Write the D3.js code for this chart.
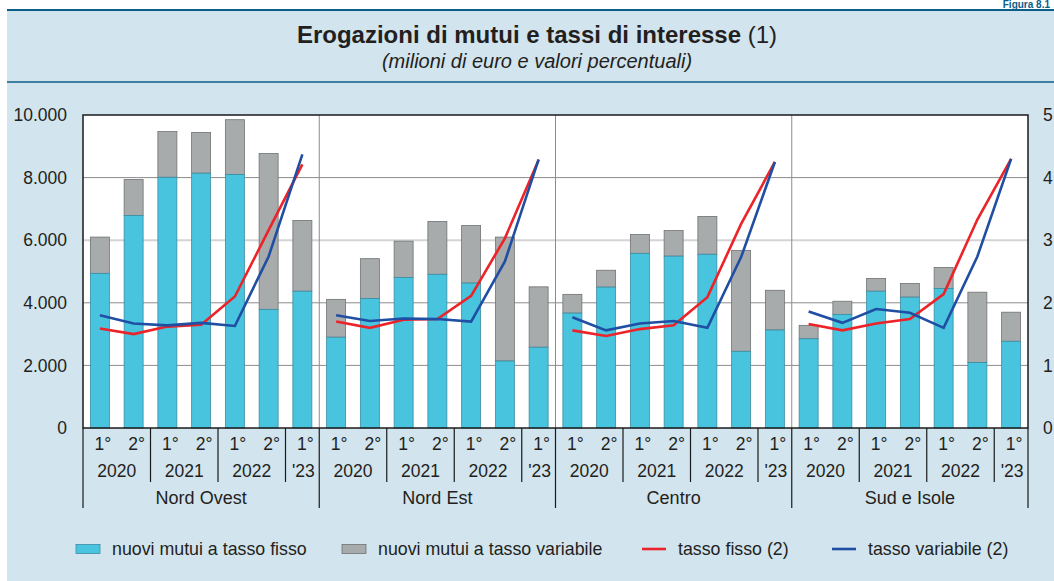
<!DOCTYPE html>
<html>
<head>
<meta charset="utf-8">
<script src="https://cdn.jsdelivr.net/npm/d3@7"></script>
<style>
  body { margin: 0; background: #fff; }
  svg { display: block; font-family: "Liberation Sans", Arial, sans-serif; }
</style>
</head>
<body>
<div class="layout"></div>
<script>
// data
var regions = ["Nord Ovest", "Nord Est", "Centro", "Sud e Isole"];
var halves = ["1°", "2°", "1°", "2°", "1°", "2°", "1°"];
var years = ["2020", "2021", "2022", "'23"];

// milioni di euro
var mutuiFisso = [
  4940, 6790, 8010, 8140, 8100, 3790, 4370,
  2900, 4140, 4810, 4910, 4630, 2140, 2580,
  3670, 4500, 5580, 5490, 5550, 2450, 3130,
  2850, 3630, 4370, 4180, 4460, 2090, 2770
];
var mutuiVariabile = [
  1160, 1150, 1460, 1300, 1750, 4980, 2260,
  1210, 1270, 1160, 1690, 1840, 3960, 1930,
   600,  540,  600,  820, 1210, 3220, 1270,
   430,  420,  410,  440,  670, 2250,  930
];
// valori percentuali
var tassoFisso = [
  1.59, 1.50, 1.62, 1.65, 2.10, 3.16, 4.21,
  1.70, 1.60, 1.73, 1.74, 2.11, 3.03, 4.28,
  1.56, 1.47, 1.58, 1.64, 2.09, 3.26, 4.25,
  1.66, 1.56, 1.67, 1.74, 2.14, 3.33, 4.30
];
var tassoVariabile = [
  1.80, 1.67, 1.64, 1.68, 1.63, 2.74, 4.37,
  1.80, 1.71, 1.75, 1.74, 1.70, 2.66, 4.29,
  1.77, 1.56, 1.67, 1.71, 1.60, 2.73, 4.25,
  1.86, 1.68, 1.90, 1.84, 1.60, 2.74, 4.30
];
var leftTicks = [0, 2000, 4000, 6000, 8000, 10000];
var rightTicks = [0, 1, 2, 3, 4, 5];

var W = 1054, H = 581;
var margin = {top: 115, right: 26, bottom: 153, left: 83},
    width = W - margin.left - margin.right,
    height = H - margin.top - margin.bottom;

var colFisso = "#48c4df", colVar = "#a8abac",
    colRed = "#ec2328", colBlue = "#1f4ea3",
    bg = "#d2e4ee", teal = "#0b5e87";

var data = mutuiFisso.map(function(d, i) {
  return {
    key: i,
    region: Math.floor(i / 7),
    slot: i % 7,
    fisso: d,
    variabile: mutuiVariabile[i],
    tf: tassoFisso[i],
    tv: tassoVariabile[i]
  };
});

var x = d3.scaleBand()
  .domain(data.map(function(d) { return d.key; }))
  .range([0, width])
  .paddingInner(0.437)
  .paddingOuter(0.2185);
var step = x.step();

var y = d3.scaleLinear().domain([0, 10000]).range([height, 0]);
var yRight = d3.scaleLinear().domain([0, 5]).range([height, 0]);

var itLocale = d3.formatLocale({decimal: ",", thousands: ".", grouping: [3], currency: ["€", ""]});
var fmt = itLocale.format(",d");

var svg = d3.select(".layout").append("svg")
  .attr("width", W)
  .attr("height", H);

// background panel and header
svg.append("rect").attr("x", 7).attr("y", 10).attr("width", W - 7).attr("height", H - 10).attr("fill", bg);
svg.append("line").attr("x1", 7).attr("x2", W).attr("y1", 10).attr("y2", 10).attr("stroke", teal).attr("stroke-width", 2.2);
svg.append("line").attr("x1", 7).attr("x2", W).attr("y1", 82).attr("y2", 82).attr("stroke", teal).attr("stroke-width", 1.5);
svg.append("text").attr("x", 1050).attr("y", 8).attr("text-anchor", "end").attr("fill", teal)
  .style("font-weight", "bold").style("font-size", "10px").text("Figura 8.1");

var title = svg.append("text").attr("x", 537).attr("y", 43).attr("text-anchor", "middle")
  .attr("fill", "#231f20").style("font-size", "24px");
title.append("tspan").style("font-weight", "bold").text("Erogazioni di mutui e tassi di interesse");
title.append("tspan").text(" (1)");
svg.append("text").attr("x", 537).attr("y", 68).attr("text-anchor", "middle")
  .attr("fill", "#231f20").style("font-size", "20px").style("font-style", "italic")
  .text("(milioni di euro e valori percentuali)");

var g = svg.append("g").attr("transform", "translate(" + margin.left + "," + margin.top + ")");

g.append("rect").attr("width", width).attr("height", height).attr("fill", "#fff");

// horizontal grid
g.selectAll(".hgrid").data(leftTicks.slice(1, -1)).enter().append("line")
  .attr("x1", 0).attr("x2", width)
  .attr("y1", function(d) { return y(d); }).attr("y2", function(d) { return y(d); })
  .attr("stroke", function(d) { return d === 6000 ? "#d4d4d4" : "#8c8c8c"; })
  .attr("stroke-width", function(d) { return d === 6000 ? 2 : 1; });

// region separators inside the plot
g.selectAll(".vgrid").data([1, 2, 3]).enter().append("line")
  .attr("x1", function(r) { return r * 7 * step; }).attr("x2", function(r) { return r * 7 * step; })
  .attr("y1", 0).attr("y2", height)
  .attr("stroke", "#8c8c8c").attr("stroke-width", 1);

// stacked bars
var bars = g.selectAll(".bar").data(data).enter().append("g");
bars.append("rect")
  .attr("x", function(d) { return x(d.key); })
  .attr("width", x.bandwidth())
  .attr("y", function(d) { return y(d.fisso + d.variabile); })
  .attr("height", function(d) { return y(d.fisso) - y(d.fisso + d.variabile); })
  .attr("fill", colVar).attr("stroke", "#6f7273").attr("stroke-width", 0.8);
bars.append("rect")
  .attr("x", function(d) { return x(d.key); })
  .attr("width", x.bandwidth())
  .attr("y", function(d) { return y(d.fisso); })
  .attr("height", function(d) { return height - y(d.fisso); })
  .attr("fill", colFisso).attr("stroke", "#3a8da3").attr("stroke-width", 0.8);

// rate lines, one segment per region
var line = function(acc) {
  return d3.line()
    .x(function(d) { return x(d.key) + x.bandwidth() / 2; })
    .y(function(d) { return yRight(acc(d)); });
};
regions.forEach(function(r, ri) {
  var sub = data.filter(function(d) { return d.region === ri; });
  g.append("path").datum(sub).attr("fill", "none").attr("stroke", colRed).attr("stroke-width", 2.6)
    .attr("d", line(function(d) { return d.tf; }));
  g.append("path").datum(sub).attr("fill", "none").attr("stroke", colBlue).attr("stroke-width", 2.6)
    .attr("d", line(function(d) { return d.tv; }));
});

// frame
g.append("rect").attr("width", width).attr("height", height)
  .attr("fill", "none").attr("stroke", "#1a1a1a").attr("stroke-width", 1.5);

// axes
var yAxis = d3.axisLeft(y).tickValues(leftTicks).tickFormat(fmt).tickSize(0).tickPadding(16);
var yRightAxis = d3.axisRight(yRight).tickValues(rightTicks).tickFormat(d3.format("d")).tickSize(0).tickPadding(15);

g.append("g").attr("class", "y axis").call(yAxis);
g.append("g").attr("class", "y axis").attr("transform", "translate(" + width + ",0)").call(yRightAxis);
g.selectAll(".axis path").remove();
g.selectAll(".axis text").style("font-size", "17.5px").attr("fill", "#231f20").style("font-family", "Liberation Sans, Arial, sans-serif");

// x labels: halves, years, regions
var lab = g.append("g").attr("transform", "translate(0," + height + ")");
lab.selectAll(".half").data(data).enter().append("text")
  .attr("x", function(d) { return x(d.key) + x.bandwidth() / 2 + 3; })
  .attr("y", 22).attr("text-anchor", "middle")
  .style("font-size", "17.5px").attr("fill", "#231f20")
  .text(function(d) { return halves[d.slot]; });

var yearSpans = [[0, 2], [2, 4], [4, 6], [6, 7]];
regions.forEach(function(r, ri) {
  yearSpans.forEach(function(s, yi) {
    var x0 = (ri * 7 + s[0]) * step, x1 = (ri * 7 + s[1]) * step;
    lab.append("text").attr("x", (x0 + x1) / 2 + (yi === 3 ? 1 : 0)).attr("y", 49)
      .attr("text-anchor", "middle").style("font-size", "17.5px").attr("fill", "#231f20")
      .text(years[yi]);
    if (yi > 0) {
      lab.append("line").attr("x1", x0).attr("x2", x0).attr("y1", 0).attr("y2", 54)
        .attr("stroke", "#1a1a1a").attr("stroke-width", 1.2);
    }
  });
  var rx0 = ri * 7 * step, rx1 = (ri + 1) * 7 * step;
  lab.append("text").attr("x", (rx0 + rx1) / 2).attr("y", 76)
    .attr("text-anchor", "middle").style("font-size", "18px").attr("fill", "#231f20")
    .text(r);
});
lab.selectAll(".rsep").data([0, 1, 2, 3, 4]).enter().append("line")
  .attr("x1", function(r) { return r * 7 * step; }).attr("x2", function(r) { return r * 7 * step; })
  .attr("y1", 0).attr("y2", 80)
  .attr("stroke", "#1a1a1a").attr("stroke-width", 1.2);

// legend
var legend = svg.append("g").attr("transform", "translate(0,549)");
var items = [
  {label: "nuovi mutui a tasso fisso", type: "rect", fill: colFisso, stroke: "#3a8da3", x: 76},
  {label: "nuovi mutui a tasso variabile", type: "rect", fill: colVar, stroke: "#6f7273", x: 342},
  {label: "tasso fisso (2)", type: "line", stroke: colRed, x: 642},
  {label: "tasso variabile (2)", type: "line", stroke: colBlue, x: 832}
];
items.forEach(function(it) {
  if (it.type === "rect") {
    legend.append("rect").attr("x", it.x).attr("y", -4.5).attr("width", 24).attr("height", 9)
      .attr("fill", it.fill).attr("stroke", it.stroke).attr("stroke-width", 0.8);
  } else {
    legend.append("line").attr("x1", it.x).attr("x2", it.x + 24).attr("y1", 0).attr("y2", 0)
      .attr("stroke", it.stroke).attr("stroke-width", 2.6);
  }
  legend.append("text").attr("x", it.x + 36).attr("y", 6)
    .style("font-size", "17.8px").attr("fill", "#231f20").text(it.label);
});
</script>
</body>
</html>
